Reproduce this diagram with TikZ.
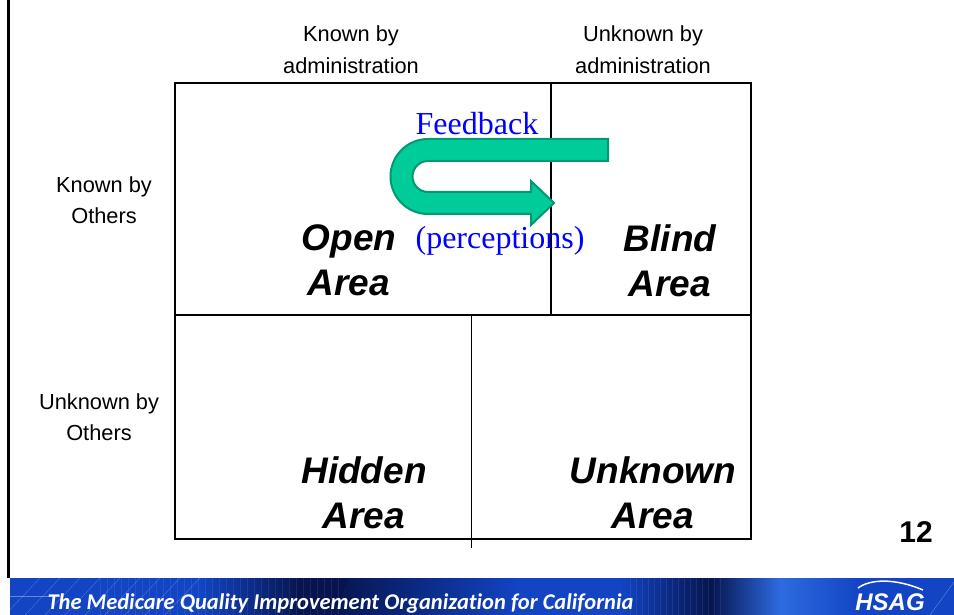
\documentclass[tikz,border=0pt]{standalone}
\usepackage{fontspec}
\setmainfont{Liberation Sans}
\newfontfamily\serifface{Liberation Serif}
\newfontfamily\bandface[Ligatures=NoCommon]{Carlito}
\usetikzlibrary{positioning, calc}
\definecolor{bandblue}{HTML}{1244C4}
\definecolor{banddark}{HTML}{06154F}
\definecolor{bandlight}{HTML}{2E6BE0}
\definecolor{arrowfill}{HTML}{00CC99}
\definecolor{arrowline}{HTML}{009973}
\tikzset{
    headlabel/.style={align=center, inner sep=0pt, font=\fontsize{21.8}{31.5}\selectfont},
    arealabel/.style={align=center, inner sep=0pt, font=\fontsize{37}{45}\selectfont\bfseries\itshape},
    bluelabel/.style={inner sep=0pt, text=blue, font=\fontsize{32}{36}\selectfont\serifface},
    gridline/.style={line width=2pt}
}
\begin{document}
\begin{tikzpicture}[x=1pt, y=-1pt]
    \useasboundingbox (0,0) rectangle (954,615);

    % footer band
    \fill[bandblue] (10,578) rectangle (954,615);
    \shade[left color=bandblue, right color=banddark] (200,578) rectangle (300,615);
    \fill[banddark] (300,578) -- (350,578) -- (335,615) -- (300,615) -- cycle;
    \shade[left color=banddark, right color=bandblue] (350,578) -- (520,578) -- (520,615) -- (335,615) -- cycle;
    \shade[left color=bandblue, right color=banddark] (620,578) rectangle (710,615);
    \shade[left color=banddark, right color=bandlight] (710,578) rectangle (780,615);
    \shade[left color=bandlight, right color=bandblue] (780,578) rectangle (860,615);
    \foreach \x in {20, 40, ..., 180} {
        \draw[white, opacity=0.25] (\x+20,578) -- (\x-15,615);
    };
    \foreach \x in {100, 107, ..., 340} {
        \draw[white, opacity=0.08] (\x,578) -- (\x,615);
    };
    \foreach \x in {630, 636, ..., 720} {
        \draw[white, opacity=0.08] (\x,578) -- (\x,615);
    };
    \draw[white, opacity=0.35] (10,596) -- (60,596);
    \draw[white, opacity=0.35] (930,615) -- (954,582);

    \node[inner sep=0pt, text=white, font=\fontsize{22.5}{26}\selectfont\bandface\bfseries\itshape] (motto) at (340.5,603) {The Medicare Quality Improvement Organization for California};
    \node[inner sep=0pt, text=white, font=\fontsize{24}{26}\selectfont\bfseries\itshape] (hsag) at (890,602) {HSAG};
    \draw[white, line width=1.5pt] (858,588) .. controls (870,579) and (895,578) .. (923,590);

    % page edge
    \draw[line width=3pt] (8.5,0) -- (8.5,578);

    % grid
    \coordinate (top-left) at (175,83);
    \coordinate (bot-right) at (751,539);
    \draw[gridline] (top-left) rectangle (bot-right);
    \draw[gridline] (175,315) -- (751,315);
    \draw[gridline] (551,83) -- (551,315);
    \draw[line width=1pt] (471,315) -- (471,548);

    % feedback arrow
    \draw[line width=2pt, draw=arrowline, fill=arrowfill] (608,139) -- (428,139)
        arc[start angle=270, end angle=90, radius=37.5] -- (531,214) -- (531,225) -- (554,203)
        -- (531,181) -- (531,192) -- (428,192)
        arc[start angle=90, end angle=270, radius=15.5] -- (608,161) -- cycle;

    \node[headlabel] (known-adm) at (351,49.5) {Known by\\administration};
    \node[headlabel] (unknown-adm) at (643,49.5) {Unknown by\\administration};
    \node[headlabel] (known-oth) at (104,200) {Known by\\Others};
    \node[headlabel] (unknown-oth) at (99,417) {Unknown by\\Others};

    \node[arealabel] (open) at (349,260.5) {Open\\Area};
    \node[arealabel] (blind) at (670,260.5) {Blind\\Area};
    \node[arealabel] (hidden) at (364,492.5) {Hidden\\Area};
    \node[arealabel] (unknown) at (653,492.5) {Unknown\\Area};

    \node[bluelabel] (feedback) at (477,124) {Feedback};
    \node[bluelabel] (perceptions) at (500,241) {(perceptions)};

    \node[inner sep=0pt, font=\fontsize{30}{32}\selectfont\bfseries] (page-no) at (916,532) {12};
\end{tikzpicture}
\end{document}
